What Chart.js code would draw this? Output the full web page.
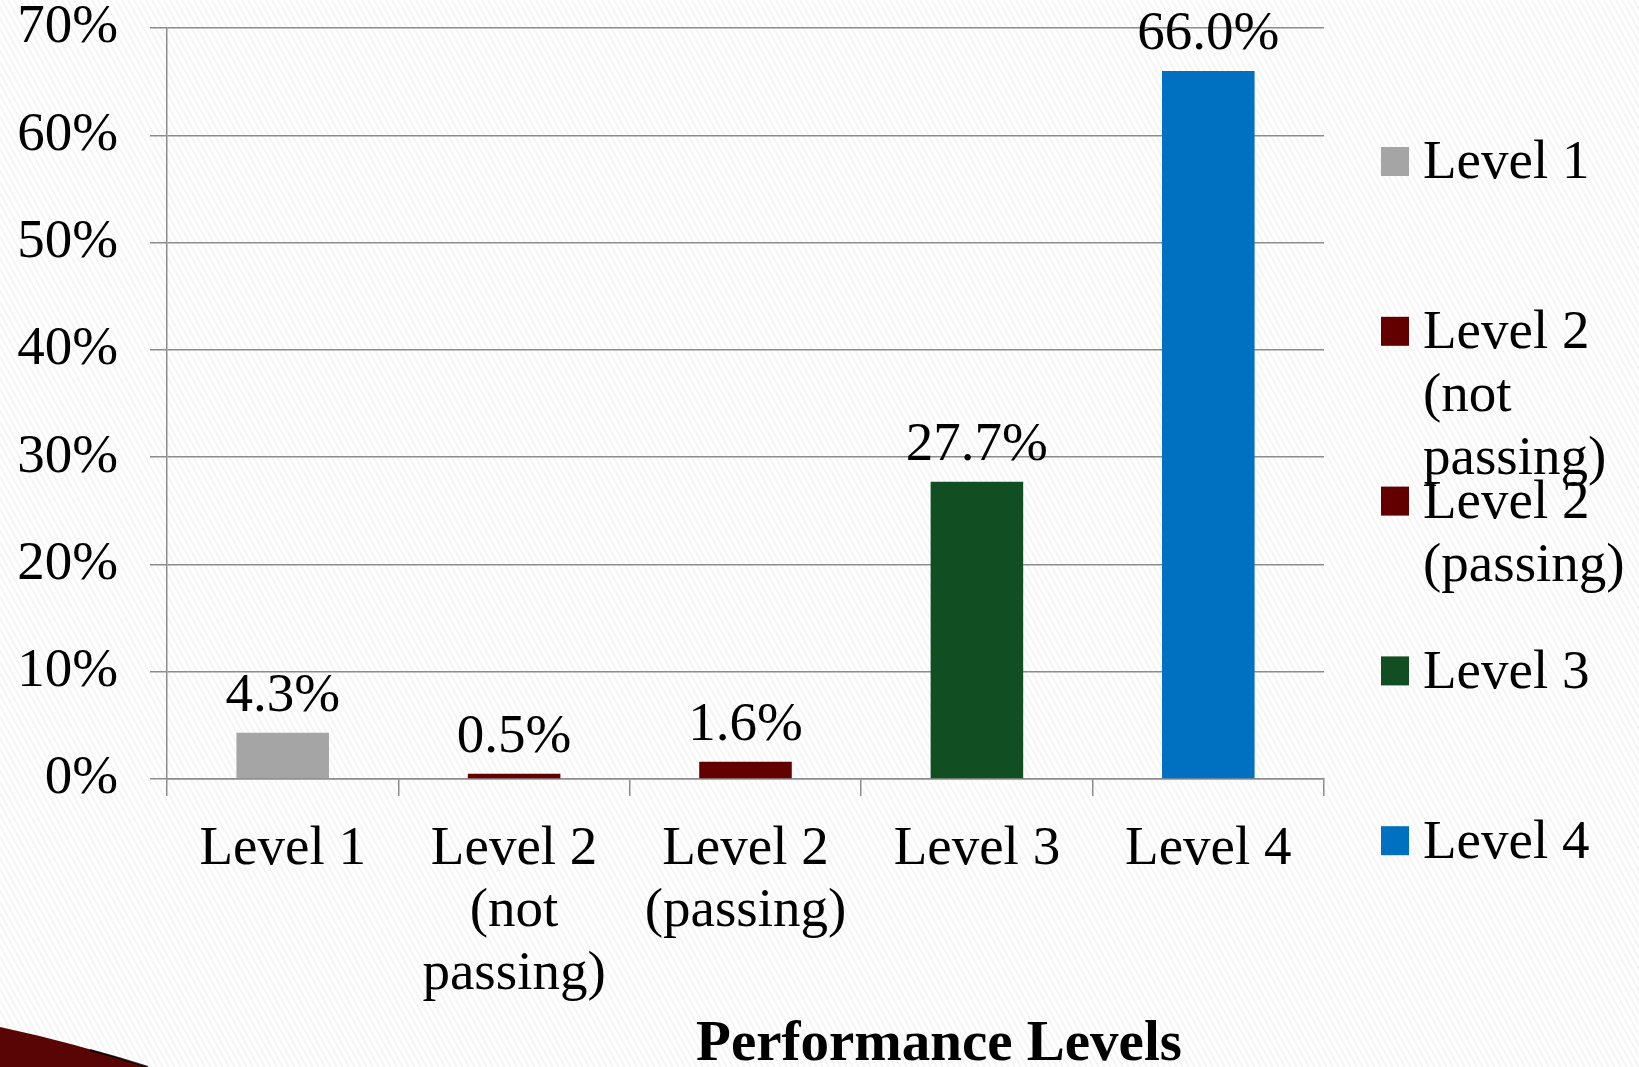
<!DOCTYPE html>
<html>
<head>
<meta charset="utf-8">
<script src="https://cdn.jsdelivr.net/npm/chart.js@4/dist/chart.umd.min.js"></script>
<style>
html, body { margin: 0; padding: 0; background: #fff; }
#wrap { width: 1639px; height: 1067px; }
</style>
</head>
<body>
<div id="wrap"><canvas id="chart" width="1639" height="1067"></canvas></div>
<script>
// Chart data
const categories = ['Level 1', ['Level 2', '(not', 'passing)'], ['Level 2', '(passing)'], 'Level 3', 'Level 4'];
const percentValues = [4.3, 0.5, 1.6, 27.7, 66.0];
const barColors = ['#a5a5a5', '#620000', '#620000', '#114f22', '#0070c0'];
const yTickValues = [0, 10, 20, 30, 40, 50, 60, 70];
const xAxisTitle = 'Performance Levels';

const FONT = '"Liberation Serif", "Times New Roman", serif';
const GRID = '#8c8c8c';

// Striped slide background + corner swoosh
const backgroundPlugin = {
    id: 'slideBackground',
    beforeDraw(chart) {
        const { ctx, width, height } = chart;
        ctx.save();
        ctx.fillStyle = '#ffffff';
        ctx.fillRect(0, 0, width, height);
        ctx.strokeStyle = 'rgba(0, 0, 0, 0.045)';
        ctx.lineWidth = 2;
        for (let x = -700; x < width + 50; x += 6) {
            ctx.beginPath();
            ctx.moveTo(x, 0);
            ctx.lineTo(x + height * 0.55, height);
            ctx.stroke();
        }
        // dark red corner shape
        ctx.beginPath();
        ctx.moveTo(0, 1027);
        ctx.quadraticCurveTo(75, 1043, 148, height);
        ctx.lineTo(0, height);
        ctx.closePath();
        ctx.fillStyle = '#5a0505';
        ctx.fill();
        ctx.beginPath();
        ctx.moveTo(90, 1050);
        ctx.quadraticCurveTo(120, 1058, 148, height);
        ctx.strokeStyle = 'rgba(0,0,0,0.8)';
        ctx.lineWidth = 2;
        ctx.stroke();
        ctx.restore();
    }
};

// Value labels above bars, axis title
const valueLabelPlugin = {
    id: 'valueLabels',
    afterDatasetsDraw(chart) {
        const ctx = chart.ctx;
        const meta = chart.getDatasetMeta(0);
        ctx.save();
        ctx.font = '55px ' + FONT;
        ctx.fillStyle = '#000';
        ctx.textAlign = 'center';
        ctx.textBaseline = 'alphabetic';
        meta.data.forEach((bar, i) => {
            ctx.fillText(percentValues[i].toFixed(1) + '%', bar.x, bar.y - 22);
        });
        // x axis title (sits right of the plot centre in the original)
        ctx.font = 'bold 57px ' + FONT;
        ctx.textBaseline = 'middle';
        ctx.fillText(xAxisTitle, 939, 1045);
        ctx.restore();
    }
};

// Legend on the right, one slot per category
const sideLegendPlugin = {
    id: 'sideLegend',
    afterDraw(chart) {
        const ctx = chart.ctx;
        const ds = chart.data.datasets[0];
        ctx.save();
        ctx.font = '55px ' + FONT;
        ctx.textAlign = 'left';
        ctx.textBaseline = 'middle';
        chart.data.labels.forEach((label, i) => {
            const y = 161 + i * 169.8;
            ctx.fillStyle = ds.backgroundColor[i];
            ctx.fillRect(1381, y - 14, 28, 29);
            ctx.fillStyle = '#000';
            const lines = Array.isArray(label) ? label : [label];
            lines.forEach((line, j) => ctx.fillText(line, 1423, y + 3 + j * 63));
        });
        ctx.restore();
    }
};

new Chart(document.getElementById('chart'), {
    type: 'bar',
    data: {
        labels: categories,
        datasets: [{
            label: 'Percent',
            data: percentValues,
            backgroundColor: barColors,
            borderWidth: 0,
            barPercentage: 0.4,
            categoryPercentage: 1.0
        }]
    },
    options: {
        responsive: false,
        animation: false,
        layout: {
            padding: { top: 28, right: 315, left: 0, bottom: 0 }
        },
        plugins: {
            legend: { display: false },
            tooltip: { enabled: false }
        },
        scales: {
            x: {
                afterFit: (scale) => { scale.height = 288; },
                ticks: {
                    color: '#000',
                    font: { family: FONT, size: 55, lineHeight: 1.14 },
                    padding: 22,
                    maxRotation: 0,
                    autoSkip: false
                },
                grid: {
                    drawOnChartArea: false,
                    offset: true,
                    tickLength: 17,
                    color: GRID,
                    lineWidth: 1.5
                },
                border: { color: GRID, width: 1.5 }
            },
            y: {
                min: 0,
                max: 70,
                afterFit: (scale) => {
                    scale.width = 167;
                    scale.paddingTop = 0;
                    scale.paddingBottom = 0;
                },
                afterBuildTicks: (scale) => {
                    scale.ticks = yTickValues.map(v => ({ value: v }));
                },
                ticks: {
                    color: '#000',
                    font: { family: FONT, size: 55, lineHeight: 1 },
                    padding: 32,
                    callback: (v) => v + '%'
                },
                grid: {
                    color: GRID,
                    lineWidth: 1.5,
                    tickLength: 17
                },
                border: { color: GRID, width: 1.5 }
            }
        }
    },
    plugins: [backgroundPlugin, valueLabelPlugin, sideLegendPlugin]
});
</script>
</body>
</html>
